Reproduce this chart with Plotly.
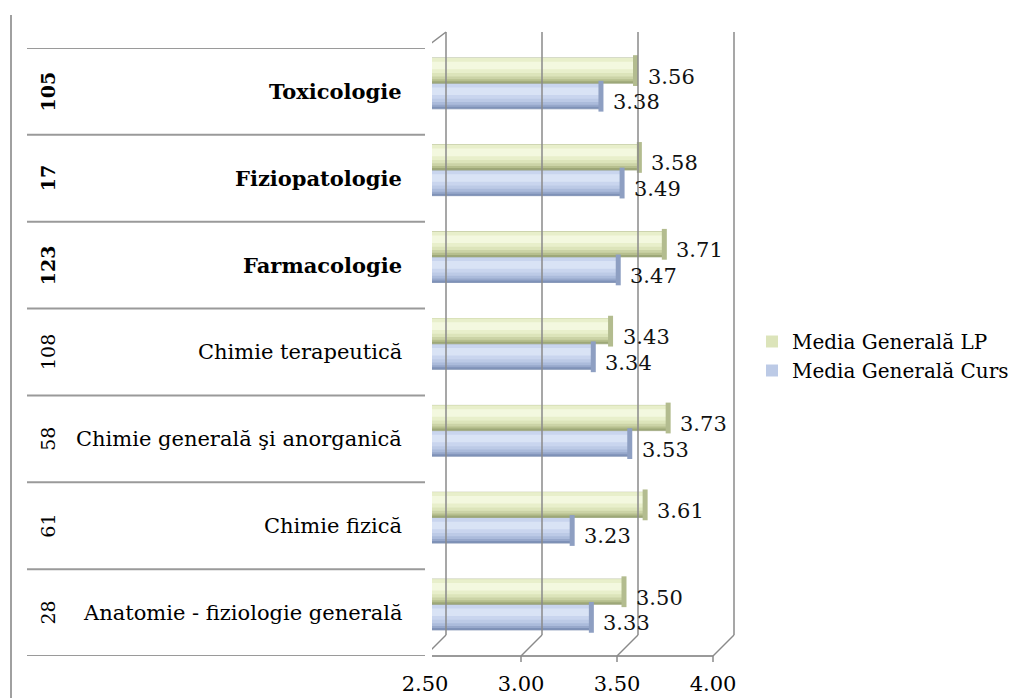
import plotly.graph_objects as go

# ---------------- data ----------------
categories = [
    "Anatomie - fiziologie generală",
    "Chimie fizică",
    "Chimie generală şi anorganică",
    "Chimie terapeutică",
    "Farmacologie",
    "Fiziopatologie",
    "Toxicologie",
]
counts = ["28", "61", "58", "108", "123", "17", "105"]
bold_rows = [False, False, False, False, True, True, True]
media_lp = [3.50, 3.61, 3.73, 3.43, 3.71, 3.58, 3.56]
media_curs = [3.33, 3.23, 3.53, 3.34, 3.47, 3.49, 3.38]
series_names = ["Media Generală Curs", "Media Generală LP"]
x_ticks = [2.5, 3.0, 3.5, 4.0]
x_tick_labels = ["2.50", "3.00", "3.50", "4.00"]

# ---------------- geometry / style ----------------
OFF = 8                      # page body margin of the browser
FW, FH = 1028 - OFF, 698 - OFF
FONT = "DejaVu Serif"
X0_PX = 432                  # page pixel of the bar base (2.50)
PX_PER_UNIT = 192
XR = [2.5, 4.2]
x_dom = [(X0_PX - OFF) / FW, (X0_PX - OFF + (XR[1] - XR[0]) * PX_PER_UNIT) / FW]
ROW_TOP_PX, ROW_BOT_PX = 48, 656
y_dom = [1 - (ROW_BOT_PX - OFF) / FH, 1 - (ROW_TOP_PX - OFF) / FH]
FRONT_SHIFT, BACK_SHIFT = -7, 14   # px offsets of the 3D frame
BACK_TOP_PX, BACK_BOT_PX = 32, 635
GRID = "#8a8a8a"

positions = list(range(len(categories)))


def fx(v, shift):
    return v + shift / PX_PER_UNIT


def px(p):
    return (p - OFF) / FW


def py(p):
    return 1 - (p - OFF) / FH


BAR_W = 0.29
styles = [
    dict(offset=-0.20,
         bands=[(0.0, "#7f92b8"), (0.08, "#97a8cb"), (0.16, "#abbbdb"),
                (0.27, "#bccae6"), (0.40, "#c9d5ee")],
         hi=(0.55, 0.30, "#d9e3f5"), legend_band=3, edge="#7d8fb3", cap="#8e9fc2"),
    dict(offset=0.095,
         bands=[(0.0, "#9ea878"), (0.08, "#b6bf8e"), (0.16, "#cbd3a6"),
                (0.27, "#dce4ba"), (0.40, "#e8efcb")],
         hi=(0.55, 0.30, "#f3f8df"), legend_band=3, edge="#9ca67b", cap="#b3bc8f"),
]

fig = go.Figure()
for name, vals, st in zip(series_names, [media_curs, media_lp], styles):
    for i, (start, color) in enumerate(st["bands"]):
        fig.add_trace(go.Bar(
            name=name, orientation="h", x=vals, y=positions,
            offset=st["offset"] + start * BAR_W, width=(1 - start) * BAR_W,
            marker=dict(color=color,
                        line=dict(color=st["edge"], width=0.8 if i == 0 else 0)),
            showlegend=(i == st["legend_band"]), hoverinfo="x" if i == 0 else "skip",
        ))
    hs, hw, hc = st["hi"]
    fig.add_trace(go.Bar(
        orientation="h", x=vals, y=positions, showlegend=False, hoverinfo="skip",
        offset=st["offset"] + hs * BAR_W, width=hw * BAR_W,
        marker=dict(color=hc, line=dict(width=0)),
    ))
    # end cap of the cylinder
    fig.add_trace(go.Scatter(
        x=vals, y=[k + st["offset"] + BAR_W / 2 for k in positions],
        mode="markers", showlegend=False, hoverinfo="skip", cliponaxis=False,
        marker=dict(symbol="line-ns", size=22,
                    line=dict(color=st["cap"], width=5)),
    ))

shapes = []
# left border of chart area
shapes.append(dict(type="line", xref="paper", yref="paper", x0=px(11), x1=px(11),
                   y0=py(15), y1=0, line=dict(color="#a0a0a0", width=2)))
# row separators of the category table
for b in range(len(categories) + 1):
    shapes.append(dict(type="line", xref="paper", yref="y",
                       x0=px(27), x1=px(X0_PX + FRONT_SHIFT),
                       y0=b - 0.5, y1=b - 0.5, line=dict(color="#9a9a9a", width=2)))
# floor front edge
shapes.append(dict(type="line", xref="x", yref="paper",
                   x0=fx(x_ticks[0], FRONT_SHIFT), x1=fx(x_ticks[-1], FRONT_SHIFT),
                   y0=py(ROW_BOT_PX), y1=py(ROW_BOT_PX), line=dict(color="#9a9a9a", width=2)))
# left wall front edge
shapes.append(dict(type="line", xref="x", yref="paper",
                   x0=fx(x_ticks[0], FRONT_SHIFT), x1=fx(x_ticks[0], FRONT_SHIFT),
                   y0=py(ROW_TOP_PX), y1=py(ROW_BOT_PX), line=dict(color=GRID, width=1.5)))
# left wall top edge
shapes.append(dict(type="line", xref="x", yref="paper",
                   x0=fx(x_ticks[0], FRONT_SHIFT), x1=fx(x_ticks[0], BACK_SHIFT),
                   y0=py(ROW_TOP_PX), y1=py(BACK_TOP_PX), line=dict(color=GRID, width=1.5)))
for v in x_ticks:
    # back wall gridline
    shapes.append(dict(type="line", xref="x", yref="paper",
                       x0=fx(v, BACK_SHIFT), x1=fx(v, BACK_SHIFT),
                       y0=py(BACK_TOP_PX), y1=py(BACK_BOT_PX), line=dict(color=GRID, width=1.5)))
    # floor depth line
    shapes.append(dict(type="line", xref="x", yref="paper",
                       x0=fx(v, BACK_SHIFT), x1=fx(v, FRONT_SHIFT),
                       y0=py(BACK_BOT_PX), y1=py(ROW_BOT_PX), line=dict(color=GRID, width=1.5)))
    # tick mark
    shapes.append(dict(type="line", xref="x", yref="paper",
                       x0=fx(v, FRONT_SHIFT), x1=fx(v, FRONT_SHIFT),
                       y0=py(ROW_BOT_PX), y1=py(ROW_BOT_PX + 6), line=dict(color=GRID, width=1.5)))

annotations = []
for k, (cat, cnt, b) in enumerate(zip(categories, counts, bold_rows)):
    annotations.append(dict(
        xref="paper", yref="y", x=px(404), y=k, xanchor="right", yanchor="middle",
        text=f"<b>{cat}</b>" if b else cat, showarrow=False,
        font=dict(family=FONT, size=21, color="#000")))
    annotations.append(dict(
        xref="paper", yref="y", x=px(48), y=k, xanchor="center", yanchor="middle",
        text=f"<b>{cnt}</b>" if b else cnt, showarrow=False, textangle=-90,
        font=dict(family=FONT, size=19, color="#000")))

# value labels next to the bar ends
for vals, st in zip([media_curs, media_lp], styles):
    for k, v in zip(positions, vals):
        annotations.append(dict(
            xref="x", yref="y", x=v, y=k + st["offset"] + BAR_W / 2,
            xanchor="left", yanchor="middle", xshift=10, yshift=-6,
            text=f"{v:.2f}", showarrow=False,
            font=dict(family=FONT, size=21, color="#111")))

fig.update_layout(
    width=FW, height=FH,
    margin=dict(l=0, r=0, t=0, b=0, pad=0, autoexpand=False),
    paper_bgcolor="white", plot_bgcolor="rgba(0,0,0,0)",
    barmode="overlay",
    showlegend=True,
    legend=dict(x=px(752), y=py(322), xanchor="left", yanchor="top",
                traceorder="reversed", font=dict(family=FONT, size=20, color="#000"),
                bgcolor="rgba(0,0,0,0)", itemwidth=30, tracegroupgap=0),
    xaxis=dict(domain=x_dom, range=XR, tickvals=x_ticks, ticktext=x_tick_labels,
               showgrid=False, zeroline=False, showline=False, ticks="",
               automargin=False,
               ticklabelshift=FRONT_SHIFT, ticklabelstandoff=13,
               tickfont=dict(family=FONT, size=21, color="#000"), fixedrange=True),
    yaxis=dict(domain=y_dom, range=[-0.5, len(categories) - 0.5], showgrid=False,
               zeroline=False, showline=False, showticklabels=False, ticks="",
               automargin=False, fixedrange=True),
    shapes=shapes,
    annotations=annotations,
)

fig.write_html("out.html")
